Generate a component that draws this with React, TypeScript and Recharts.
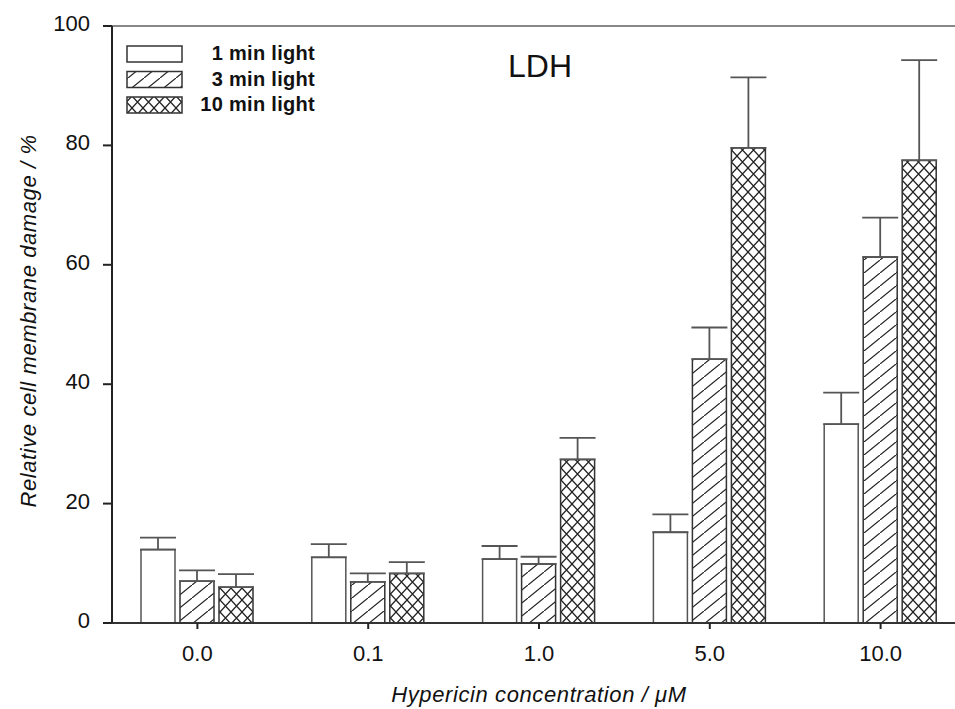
import { BarChart, Bar, XAxis, YAxis, ErrorBar, ReferenceLine, Legend } from 'recharts'

const concentrations = ['0.0', '0.1', '1.0', '5.0', '10.0']

// mean damage (%) and upper standard deviation per light dose
const light1 = [12.3, 11.0, 10.7, 15.2, 33.3]
const light1Sd = [2.0, 2.2, 2.2, 3.0, 5.3]
const light3 = [7.0, 6.9, 9.9, 44.2, 61.3]
const light3Sd = [1.8, 1.4, 1.2, 5.3, 6.6]
const light10 = [6.0, 8.3, 27.4, 79.6, 77.5]
const light10Sd = [2.2, 1.9, 3.6, 11.8, 16.8]

const yTicks = [0, 20, 40, 60, 80, 100]

const rows = concentrations.map((c, i) => ({
  conc: c,
  l1: light1[i],
  l1Err: [0, light1Sd[i]],
  l3: light3[i],
  l3Err: [0, light3Sd[i]],
  l10: light10[i],
  l10Err: [0, light10Sd[i]],
}))

const FONT = '"Liberation Sans", Arial, sans-serif'

const series = [
  { key: 'l1', name: '1 min light', fill: '#ffffff', stroke: '#555' },
  { key: 'l3', name: '3 min light', fill: 'url(#hatch)', stroke: '#333' },
  { key: 'l10', name: '10 min light', fill: 'url(#cross)', stroke: '#333' },
]

const YTick = ({ x, y, payload }: any) => (
  <text x={x} y={y} dy={5} textAnchor="end" fontSize={22} fill="#111" fontFamily={FONT}>
    {payload.value}
  </text>
)

const XTick = ({ x, y, payload }: any) => (
  <text x={x} y={y} dy={16} textAnchor="middle" fontSize={22} fill="#111" fontFamily={FONT}>
    {payload.value}
  </text>
)

const LegendBox = () => (
  <svg width={340} height={130}>
    {series.map((s, i) => (
      <g key={s.key}>
        <rect x={127} y={46 + i * 25.5} width={55} height={16} fill={s.fill} stroke="#333" strokeWidth={1.5} />
        <text
          x={315}
          y={60 + i * 25.5}
          textAnchor="end"
          fontSize={20}
          fontWeight="bold"
          letterSpacing={0.3}
          fill="#111"
          fontFamily={FONT}
        >
          {s.name}
        </text>
      </g>
    ))}
  </svg>
)

export default function App() {
  return (
    <div style={{ position: 'absolute', left: 0, top: 0, width: 955, height: 709, overflow: 'hidden', background: '#fff' }}>
      <BarChart
        width={966}
        height={709}
        data={rows}
        margin={{ top: 26, right: 0, bottom: 56, left: 0 }}
        barSize={34}
        barGap={5}
      >
        <defs>
          <pattern id="hatch" patternUnits="userSpaceOnUse" width={16} height={13}>
            <rect width={16} height={13} fill="#fff" />
            <path d="M0,13 L16,0 M-2,14.6 L2,11.4 M14,1.6 L18,-1.6" stroke="#222" strokeWidth={1.2} />
          </pattern>
          <pattern id="cross" patternUnits="userSpaceOnUse" width={11} height={12}>
            <rect width={11} height={12} fill="#fff" />
            <path d="M0,0 L11,12 M11,0 L0,12" stroke="#222" strokeWidth={1.3} />
          </pattern>
        </defs>
        <XAxis
          dataKey="conc"
          height={30}
          tickSize={6}
          tickMargin={16}
          tick={<XTick />}
          axisLine={{ stroke: '#333', strokeWidth: 2 }}
          tickLine={{ stroke: '#222', strokeWidth: 2 }}
        />
        <YAxis
          width={112}
          domain={[0, 100]}
          ticks={yTicks}
          tickSize={9}
          tickMargin={13}
          tick={<YTick />}
          axisLine={{ stroke: '#222', strokeWidth: 2 }}
          tickLine={{ stroke: '#222', strokeWidth: 2 }}
        />
        <ReferenceLine y={100} stroke="#888" strokeWidth={2} />
        <Legend
          layout="horizontal"
          verticalAlign="middle"
          align="center"
          content={<LegendBox />}
          wrapperStyle={{ left: 0, top: 0, width: 340, height: 130 }}
        />
        {series.map((s) => (
          <Bar
            key={s.key}
            dataKey={s.key}
            name={s.name}
            fill={s.fill}
            stroke={s.stroke}
            strokeWidth={1.5}
            isAnimationActive={false}
          >
            <ErrorBar dataKey={`${s.key}Err`} width={18} stroke="#555" strokeWidth={1.8} />
          </Bar>
        ))}
        <text x={540} y={77} textAnchor="middle" fontSize={32} fill="#111" fontFamily={FONT}>
          LDH
        </text>
        <text
          x={539}
          y={702}
          textAnchor="middle"
          fontSize={22}
          fontStyle="italic"
          letterSpacing={0.6}
          fill="#111"
          fontFamily={FONT}
        >
          Hypericin concentration / μM
        </text>
        <text
          x={36}
          y={321}
          transform="rotate(-90 36 321)"
          textAnchor="middle"
          fontSize={22}
          fontStyle="italic"
          letterSpacing={0.6}
          fill="#111"
          fontFamily={FONT}
        >
          Relative cell membrane damage / %
        </text>
      </BarChart>
    </div>
  )
}
